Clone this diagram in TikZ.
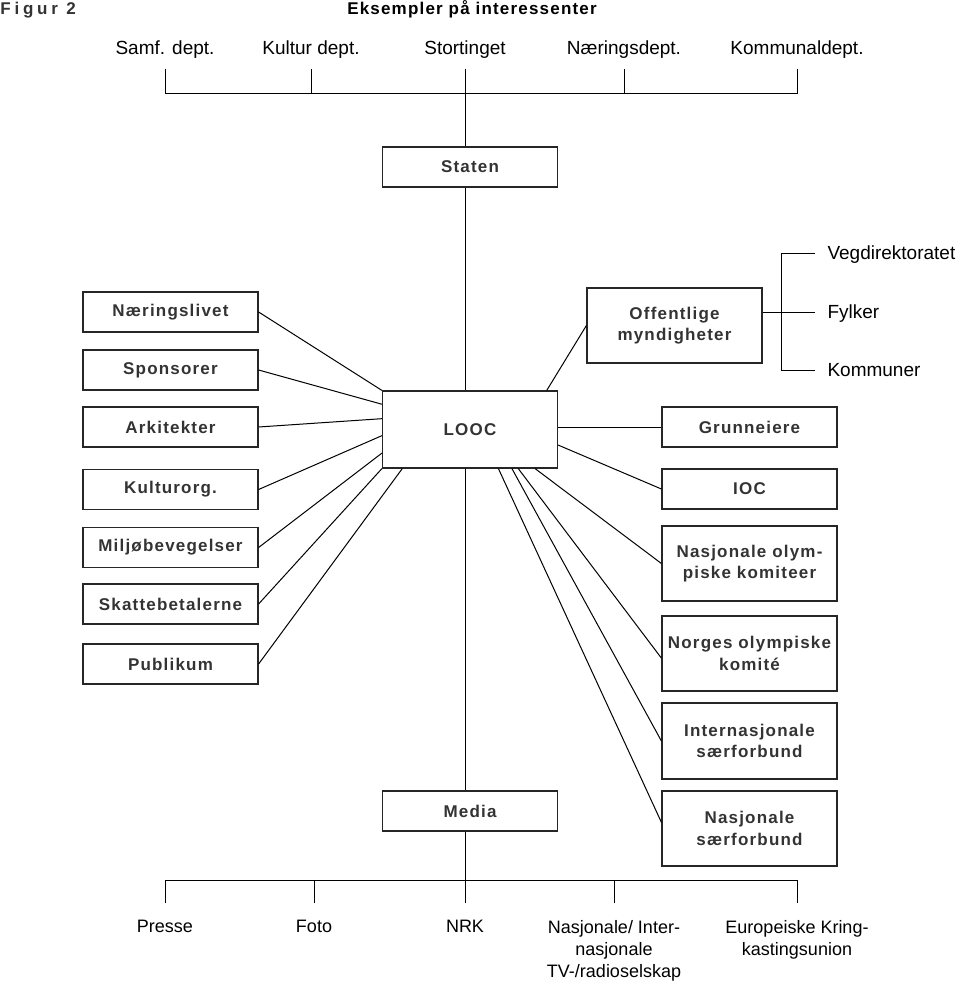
\documentclass[tikz,border=0pt]{standalone}
\usepackage{fontspec}
\setmainfont{Liberation Sans}
\newfontfamily\spacedsans[LetterSpace=7]{Liberation Sans}
\newfontfamily\figursans[LetterSpace=22]{Liberation Sans}
\newcommand{\boxlabelfont}{\fontsize{17}{21.5}\selectfont\spacedsans\bfseries}
\newcommand{\deptfont}{\fontsize{19}{23}\selectfont}
\newcommand{\channelfont}{\fontsize{18}{22}\selectfont}

\begin{document}
\begin{tikzpicture}[
    x=1pt, y=-1pt,
    line width=1pt,
    box/.style={draw=black!85, line width=1.2pt, minimum width=175pt, minimum height=40pt, inner sep=2pt, align=center, text=black!80, font=\boxlabelfont},
    tallbox/.style={box, minimum height=75pt},
    dept/.style={anchor=south, inner sep=0pt, inner ysep=10pt, text height=14pt, text depth=4pt, font=\deptfont}, % ministries on top
    authority/.style={anchor=west, inner sep=0pt, inner xsep=12pt, text height=14pt, text depth=1pt, font=\deptfont},
    channel/.style={anchor=north, inner xsep=2pt, inner ysep=17pt, align=center, font=\channelfont} % media at the bottom
]
    \useasboundingbox (0, 0) rectangle (960, 984);

    % HEADING
    \node (figur) at (0, 15) [anchor=base west, inner sep=0pt, font=\fontsize{17}{20}\selectfont\figursans\bfseries, text=black!80] {Figur 2};
    \node (title) at (472, 15) [anchor=base, inner sep=0pt, font=\boxlabelfont] {Eksempler på interessenter};

    % MINISTRIES
    \node (samf) at (165, 69) [dept] {Samf. dept.};
    \node (kulturdept) at (311, 69) [dept] {Kultur dept.};
    \node (storting) at (465, 69) [dept] {Stortinget};
    \node (naeringsdept) at (624, 69) [dept] {Næringsdept.};
    \node (kommunal) at (797, 69) [dept] {Kommunaldept.};
    \coordinate (topbar) at (465, 94);

    \draw (samf.south) -- (samf.south |- topbar) -- (kommunal.south |- topbar) -- (kommunal.south);
    \draw (kulturdept.south) -- (kulturdept.south |- topbar);
    \draw (naeringsdept.south) -- (naeringsdept.south |- topbar);

    % CENTRE COLUMN
    \node (staten) at (470, 167) [box] {Staten};
    \node (looc) at (470, 429.5) [box, minimum height=77pt] {LOOC};
    \node (media) at (470, 811) [box] {Media};

    \draw (storting.south) -- (staten.north -| storting.south);
    \draw (staten.south -| storting.south) -- (looc.north -| storting.south);
    \draw (looc.south -| storting.south) -- (media.north -| storting.south);

    % LEFT GROUPS
    \node (naering) at (170.5, 312) [box] {Næringslivet};
    \node (sponsor) at (170.5, 370) [box] {Sponsorer};
    \node (arkitekt) at (170.5, 427) [box] {Arkitekter};
    \node (kulturorg) at (170.5, 489.5) [box] {Kulturorg.};
    \node (miljo) at (170.5, 547.5) [box] {Miljøbevegelser};
    \node (skatt) at (170.5, 604) [box] {Skattebetalerne};
    \node (publikum) at (170.5, 664) [box] {Publikum};

    \draw (naering.east) -- (looc.north west);
    \draw (sponsor.east) -- (looc.164);
    \draw (arkitekt.east) -- (looc.173);
    \draw (kulturorg.east) -- (looc.184);
    \draw (miljo.east) -- (looc.195);
    \draw (skatt.east) -- (looc.south west);
    \draw (publikum.east) -- (looc.210);

    % PUBLIC AUTHORITIES
    \node (offentlige) at (674.5, 325.5) [tallbox] {Offentlige\\myndigheter};
    \node (vegdir) at (815, 253) [authority] {Vegdirektoratet};
    \node (fylker) at (815, 312) [authority] {Fylker};
    \node (kommuner) at (815, 370) [authority] {Kommuner};
    \coordinate (bracket) at (781, 312);

    \draw (offentlige.east |- bracket) -- (fylker.west);
    \draw (vegdir.west) -| (bracket) |- (kommuner.west);
    \draw (looc.27) -- (offentlige.west);

    % RIGHT GROUPS
    \node (grunneiere) at (749.5, 427) [box] {Grunneiere};
    \node (ioc) at (749.5, 489) [box] {IOC};
    \node (nok) at (749.5, 563.5) [tallbox] {Nasjonale olym-\\piske komiteer};
    \node (nif) at (749.5, 653.5) [tallbox] {Norges olympiske\\komité};
    \node (intsf) at (749.5, 741) [tallbox, minimum height=76pt] {Internasjonale\\særforbund};
    \node (nasjsf) at (749.5, 828.5) [tallbox] {Nasjonale\\særforbund};

    \draw (looc.east |- grunneiere.west) -- (grunneiere.west);
    \draw (looc.350) -- (ioc.west);
    \draw (looc.329) -- (nok.west);
    \draw (looc.321) -- (nif.183);
    \draw (looc.317) -- (intsf.west);
    \draw (looc.306) -- (nasjsf.176);

    % MEDIA CHANNELS
    \node (presse) at (165, 903) [channel] {Presse};
    \node (foto) at (314, 903) [channel] {Foto};
    \node (nrk) at (465, 903) [channel] {NRK};
    \node (tvradio) at (614, 903) [channel] {Nasjonale/ Inter-\\nasjonale\\TV-/radioselskap};
    \node (ebu) at (797, 903) [channel] {Europeiske Kring-\\kastingsunion};
    \coordinate (botbar) at (465, 880);

    \draw (presse.north) -- (presse.north |- botbar) -- (ebu.north |- botbar) -- (ebu.north);
    \draw (foto.north) -- (foto.north |- botbar);
    \draw (tvradio.north) -- (tvradio.north |- botbar);
    \draw (media.south -| nrk.north) -- (nrk.north);
\end{tikzpicture}
\end{document}
